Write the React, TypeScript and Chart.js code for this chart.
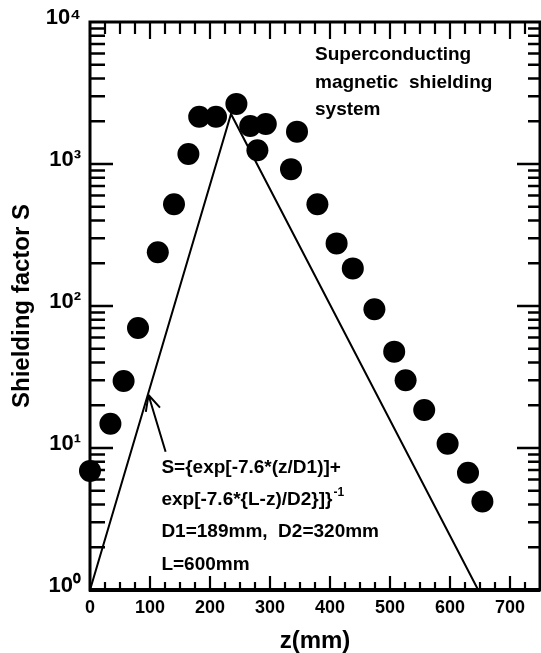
import React, { useEffect, useRef } from "react";
import { Chart, registerables } from "chart.js";

Chart.register(...registerables);

// measured shielding factor (z in mm, S)
const measuredZ = [0, 34, 56, 80, 113, 140, 164, 182, 210, 244, 267, 279, 293, 335, 345, 379, 411, 438, 474, 507, 526, 557, 596, 630, 654];
const measuredS = [6.9, 14.8, 29.6, 70, 239, 520, 1175, 2150, 2150, 2650, 1850, 1250, 1910, 920, 1690, 520, 276, 184, 95, 47.7, 30, 18.5, 10.7, 6.7, 4.2];

// model curve (straight lines on the log scale)
const fitZ = [0, 235, 647];
const fitS = [1, 2250, 1];

// axes
const xMin = 0;
const xMax = 750;
const xLabelStep = 100;
const xMinorStep = 25;
const yDecades = [1, 10, 100, 1000, 10000];
const yMinorMultipliers = [2, 3, 4, 5, 6, 7, 8, 9];
const supDigits = ["\u2070", "\u00B9", "\u00B2", "\u00B3", "\u2074"];

// annotations
const noteLines = ["Superconducting", "magnetic  shielding", "system"];
const formulaLines = ["S={exp[-7.6*(z/D1)]+", "exp[-7.6*{L-z)/D2}]}", "D1=189mm,  D2=320mm", "L=600mm"];
const formulaSup = "-1";
const arrowTip = { x: 97.5, y: 23.6 };
const arrowTail = { x: 126, y: 9.4 };

const FONT = '"Liberation Sans", Arial, Helvetica, sans-serif';

const framePlugin = {
  id: "framePlugin",
  afterDatasetsDraw(chart: any) {
    const { ctx, chartArea: a, scales } = chart;
    const xs = scales.x;
    const ys = scales.y;
    ctx.save();
    ctx.strokeStyle = "#000";
    ctx.fillStyle = "#000";
    ctx.lineCap = "butt";

    // frame
    ctx.lineWidth = 3;
    ctx.strokeRect(a.left, a.top, a.right - a.left, a.bottom - a.top);
    ctx.lineWidth = 4;
    ctx.beginPath();
    ctx.moveTo(a.left - 1, a.bottom);
    ctx.lineTo(a.right, a.bottom);
    ctx.stroke();

    // x ticks (inward, bottom and top)
    ctx.lineWidth = 2.2;
    for (let v = xMin + xMinorStep; v < xMax; v += xMinorStep) {
      const px = xs.getPixelForValue(v);
      const major = v % xLabelStep === 0;
      ctx.beginPath();
      ctx.moveTo(px, a.bottom);
      ctx.lineTo(px, a.bottom - (major ? 14 : 8));
      ctx.moveTo(px, a.top);
      ctx.lineTo(px, a.top + (major ? 17 : 12));
      ctx.stroke();
    }

    // y ticks (inward, left and right)
    ctx.lineWidth = 2.4;
    yDecades.forEach((d, i) => {
      const py = ys.getPixelForValue(d);
      if (i > 0 && i < yDecades.length - 1) {
        ctx.beginPath();
        ctx.moveTo(a.left, py);
        ctx.lineTo(a.left + 23, py);
        ctx.moveTo(a.right, py);
        ctx.lineTo(a.right - 23, py);
        ctx.stroke();
      }
      if (i < yDecades.length - 1) {
        yMinorMultipliers.forEach((m) => {
          const pm = ys.getPixelForValue(d * m);
          ctx.beginPath();
          ctx.moveTo(a.left, pm);
          ctx.lineTo(a.left + 15, pm);
          ctx.moveTo(a.right, pm);
          ctx.lineTo(a.right - 12, pm);
          ctx.stroke();
        });
      }
    });

    // note top right
    ctx.font = `bold 19px ${FONT}`;
    ctx.textBaseline = "alphabetic";
    ctx.textAlign = "left";
    const noteX = xs.getPixelForValue(375);
    const noteY0 = ys.getPixelForValue(5400);
    noteLines.forEach((t, i) => ctx.fillText(t, noteX, noteY0 + i * 27.5));

    // formula
    const fx = xs.getPixelForValue(119);
    const fy0 = ys.getPixelForValue(6.7);
    formulaLines.forEach((t, i) => {
      const y = fy0 + i * 32.3;
      ctx.font = `bold 19px ${FONT}`;
      ctx.fillText(t, fx, y);
      if (i === 1) {
        const w = ctx.measureText(t).width;
        ctx.font = `bold 12px ${FONT}`;
        ctx.fillText(formulaSup, fx + w + 1, y - 9);
      }
    });

    // arrow
    const tx = xs.getPixelForValue(arrowTip.x);
    const ty = ys.getPixelForValue(arrowTip.y);
    const bx = xs.getPixelForValue(arrowTail.x);
    const by = ys.getPixelForValue(arrowTail.y);
    ctx.lineWidth = 2;
    ctx.beginPath();
    ctx.moveTo(bx, by);
    ctx.lineTo(tx, ty);
    const ang = Math.atan2(by - ty, bx - tx);
    const hl = 17;
    ctx.moveTo(tx, ty);
    ctx.lineTo(tx + hl * Math.cos(ang - 0.45), ty + hl * Math.sin(ang - 0.45));
    ctx.moveTo(tx, ty);
    ctx.lineTo(tx + hl * Math.cos(ang + 0.45), ty + hl * Math.sin(ang + 0.45));
    ctx.stroke();

    ctx.restore();
  },
};

export default function App() {
  const ref = useRef<HTMLCanvasElement | null>(null);

  useEffect(() => {
    document.body.style.margin = "0";
    const canvas = ref.current;
    if (!canvas) return;
    const chart = new Chart(canvas, {
      type: "scatter",
      data: {
        datasets: [
          {
            label: "measured",
            data: measuredZ.map((z, i) => ({ x: z, y: measuredS[i] })),
            pointRadius: 11,
            pointHoverRadius: 11,
            backgroundColor: "#000",
            borderColor: "#000",
            borderWidth: 0,
            clip: false,
            order: 1,
          } as any,
          {
            label: "fit",
            data: fitZ.map((z, i) => ({ x: z, y: fitS[i] })),
            showLine: true,
            pointRadius: 0,
            pointHoverRadius: 0,
            borderColor: "#000",
            borderWidth: 2,
            fill: false,
            order: 2,
          } as any,
        ],
      },
      options: {
        responsive: false,
        animation: false,
        events: [],
        layout: { autoPadding: false, padding: { left: 0, top: 22, right: 1, bottom: 0 } },
        plugins: { legend: { display: false }, tooltip: { enabled: false } },
        scales: {
          x: {
            type: "linear",
            min: xMin,
            max: xMax,
            afterFit: (s: any) => {
              s.height = 63;
              s.paddingLeft = 0;
              s.paddingRight = 0;
            },
            grid: { display: false, drawTicks: false },
            border: { display: false },
            ticks: {
              stepSize: xLabelStep,
              includeBounds: false,
              autoSkip: false,
              maxRotation: 0,
              padding: 7,
              color: "#000",
              font: { family: FONT, size: 18, weight: "bold" },
              callback: (v: any) => String(v),
            } as any,
            title: {
              display: true,
              text: "z(mm)",
              color: "#000",
              font: { family: FONT, size: 24, weight: "bold", lineHeight: 1 },
              padding: { top: 0, bottom: 0 },
            },
          },
          y: {
            type: "logarithmic",
            min: yDecades[0],
            max: yDecades[yDecades.length - 1],
            afterFit: (s: any) => {
              s.width = 90;
              s.paddingTop = 0;
              s.paddingBottom = 0;
            },
            afterBuildTicks: (s: any) => {
              s.ticks = yDecades.map((v) => ({ value: v, major: true }));
            },
            grid: { display: false, drawTicks: false },
            border: { display: false },
            ticks: {
              padding: 9,
              labelOffset: -4,
              color: "#000",
              font: { family: FONT, size: 22, weight: "bold" },
              callback: (v: any) => {
                const e = Math.round(Math.log10(Number(v)));
                return "10" + supDigits[e];
              },
            } as any,
            title: {
              display: true,
              text: "Shielding factor S",
              color: "#000",
              font: { family: FONT, size: 24, weight: "bold", lineHeight: 1 },
              padding: { top: 10, bottom: 0 },
            },
          },
        },
      },
      plugins: [framePlugin],
    });
    return () => chart.destroy();
  }, []);

  return (
    <div style={{ width: 541, height: 653 }}>
      <canvas ref={ref} width={541} height={653} style={{ display: "block" }} />
    </div>
  );
}
